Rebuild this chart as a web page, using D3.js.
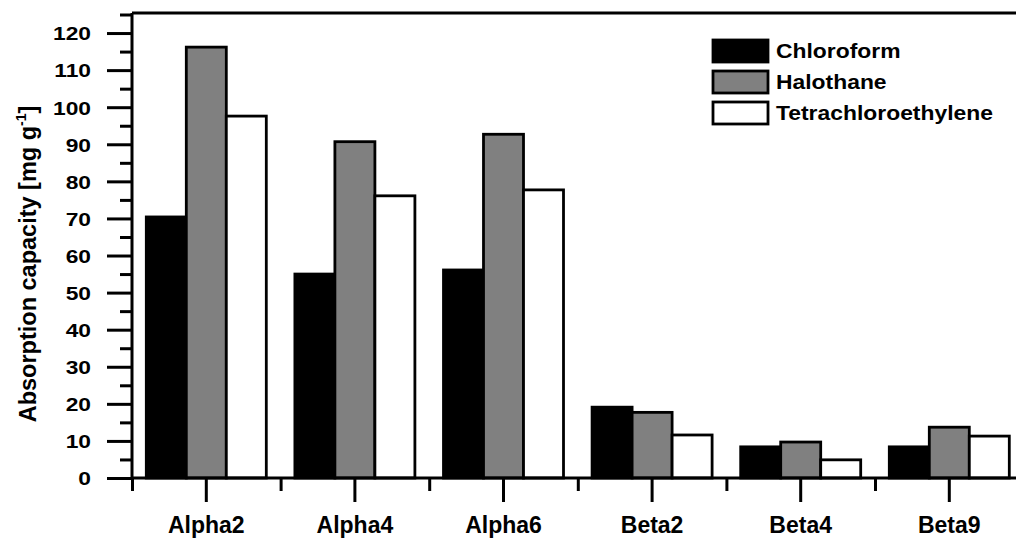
<!DOCTYPE html>
<html>
<head>
<meta charset="utf-8">
<script src="https://cdn.jsdelivr.net/npm/d3@7"></script>
<style>
  html, body { margin: 0; padding: 0; background: #fff; }
  svg { display: block; }
  text { font-family: "Liberation Sans", Arial, sans-serif; font-weight: bold; fill: #000; }
</style>
</head>
<body>
<svg id="chart" width="1016" height="540"></svg>
<script>
// Absorption capacity of each sorbent for three volatile anaesthetic / solvent vapours
const categories = ["Alpha2", "Alpha4", "Alpha6", "Beta2", "Beta4", "Beta9"];
const seriesNames = ["Chloroform", "Halothane", "Tetrachloroethylene"];
const chloroform = [70.4, 55.0, 56.1, 19.1, 8.4, 8.4];
const halothane = [116.2, 90.7, 92.7, 17.7, 9.7, 13.7];
const tetrachloroethylene = [97.6, 76.1, 77.7, 11.6, 4.9, 11.3];
const yMajorTicks = [0, 10, 20, 30, 40, 50, 60, 70, 80, 90, 100, 110, 120];
const yMinorTicks = [5, 15, 25, 35, 45, 55, 65, 75, 85, 95, 105, 115, 125];

const seriesValues = [chloroform, halothane, tetrachloroethylene];
const fills = ["#000000", "#808080", "#ffffff"];

const svg = d3.select("#chart");
const plotLeft = 132, plotBottom = 478, plotTop = 14.5, plotRight = 1023.6;

const x = d3.scaleBand().domain(categories).range([plotLeft, plotRight]).paddingInner(0).paddingOuter(0);
const groupWidth = 120;
const xSub = d3.scaleBand().domain(seriesNames).range([0, groupWidth]);
const y = d3.scaleLinear().domain([0, 125]).range([plotBottom, plotTop]);

// bars
const groups = svg.append("g")
  .selectAll("g")
  .data(categories)
  .join("g")
  .attr("transform", d => `translate(${x(d) + (x.bandwidth() - groupWidth) / 2},0)`);

groups.selectAll("rect")
  .data((c, i) => seriesNames.map((s, j) => ({ s, j, v: seriesValues[j][i] })))
  .join("rect")
  .attr("x", d => xSub(d.s))
  .attr("width", xSub.bandwidth())
  .attr("y", d => y(d.v))
  .attr("height", d => plotBottom - y(d.v))
  .attr("fill", d => fills[d.j])
  .attr("stroke", "#000")
  .attr("stroke-width", 2.8);

// top frame line
svg.append("line")
  .attr("x1", plotLeft).attr("x2", 1016)
  .attr("y1", 13).attr("y2", 13)
  .attr("stroke", "#000").attr("stroke-width", 2.8);

// y axis: minor ticks
const yMinor = svg.append("g")
  .attr("transform", `translate(${plotLeft},0)`)
  .call(d3.axisLeft(y).tickValues(yMinorTicks).tickSize(12).tickFormat(""));
yMinor.select(".domain").remove();

// y axis: major ticks with labels
const yAxis = svg.append("g")
  .attr("transform", `translate(${plotLeft},0)`)
  .call(d3.axisLeft(y).tickValues(yMajorTicks).tickSize(25).tickPadding(16));
yAxis.select(".domain").attr("d", `M0,${plotBottom}V13`);
yAxis.selectAll("text")
  .style("font-size", "19px")
  .attr("x", -41 / 1.2)
  .attr("dy", "0.36em")
  .attr("transform", "scale(1.2,1)");

// x axis: boundary ticks between categories
const boundaries = categories.map(c => x(c));
const xEdge = d3.scaleLinear().domain([plotLeft, plotRight]).range([plotLeft, plotRight]);
const xMinor = svg.append("g")
  .attr("transform", `translate(0,${plotBottom})`)
  .call(d3.axisBottom(xEdge).tickValues(boundaries).tickSize(13).tickFormat(""));
xMinor.select(".domain").remove();

const xAxis = svg.append("g")
  .attr("transform", `translate(0,${plotBottom})`)
  .call(d3.axisBottom(x).tickSize(24).tickPadding(0).tickSizeOuter(0));
xAxis.select(".domain").attr("d", `M${plotLeft},0H1016`);
xAxis.selectAll("text")
  .style("font-size", "23px")
  .attr("y", 55)
  .attr("dy", 0);

svg.selectAll(".tick line, .domain").attr("stroke", "#000").attr("stroke-width", 3);

// y axis title
const title = svg.append("text")
  .attr("transform", "translate(36,264) rotate(-90)")
  .attr("text-anchor", "middle")
  .style("font-size", "23.5px");
title.append("tspan").text("Absorption capacity [mg g");
title.append("tspan").attr("dy", -10).style("font-size", "14px").text("-1");
title.append("tspan").attr("dy", 10).text("]");

// legend
const legend = svg.append("g")
  .selectAll("g")
  .data(seriesNames)
  .join("g")
  .attr("transform", (d, i) => `translate(713,${40 + i * 31})`);
legend.append("rect")
  .attr("width", 55).attr("height", 22)
  .attr("fill", (d, i) => fills[i])
  .attr("stroke", "#000").attr("stroke-width", 2.8);
legend.append("text")
  .attr("transform", "translate(63,18) scale(1.09,1)")
  .style("font-size", "21px")
  .text(d => d);
</script>
</body>
</html>
